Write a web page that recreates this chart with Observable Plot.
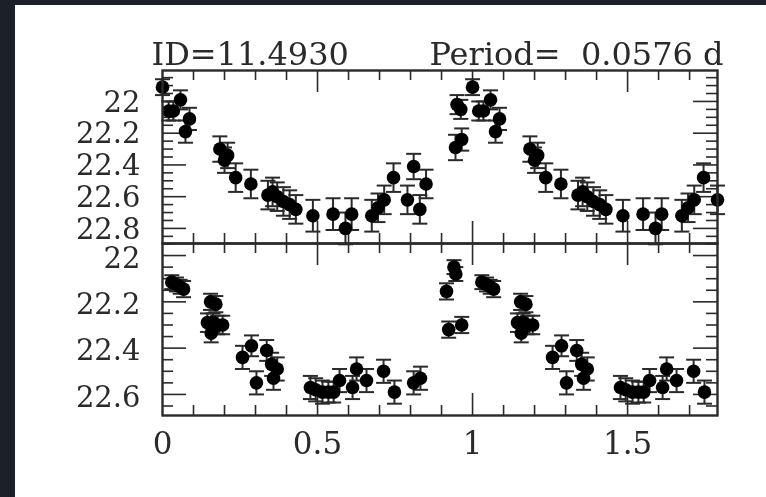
<!DOCTYPE html>
<html><head><meta charset="utf-8">
<script src="https://cdn.jsdelivr.net/npm/d3@7"></script>
<script src="https://cdn.jsdelivr.net/npm/@observablehq/plot@0.6"></script>
<style>
html,body{margin:0;padding:0;background:#1b2029;width:766px;height:497px;overflow:hidden;}
#card{position:absolute;left:15px;top:5px;width:751px;height:492px;background:#fff;}
#top{position:absolute;left:0;top:0;}
#bot{position:absolute;left:0;top:238px;}
svg{overflow:visible;background:transparent !important;filter:blur(0.5px);}
</style></head><body><div id="card"><div id="top"></div><div id="bot"></div></div>
<script>
// ---- texts ----
const titleLeft = "ID=11.4930";
const titleRight = "Period=  0.0576 d";

// ---- ticks ----
const xTickValues = [0, 0.5, 1, 1.5];
const xTickLabels = ["0", "0.5", "1", "1.5"];
const topYTicks = [22, 22.2, 22.4, 22.6, 22.8];
const topYLabels = ["22", "22.2", "22.4", "22.6", "22.8"];
const botYTicks = [22, 22.2, 22.4, 22.6];
const botYLabels = ["22", "22.2", "22.4", "22.6"];

// ---- top panel data (phase, magnitude, error) ----
const topPhase = [0.000, 0.020, 0.035, 0.058, 0.074, 0.087, 0.185, 0.200, 0.210, 0.236,
  0.285, 0.340, 0.355, 0.370, 0.390, 0.410, 0.430, 0.485, 0.550, 0.590,
  0.610, 0.675, 0.695, 0.715, 0.745, 0.790, 0.810, 0.830, 0.850, 0.945,
  0.965, 0.950, 0.962];
const topMag = [21.91, 22.06, 22.06, 21.99, 22.19, 22.11, 22.30, 22.37, 22.34, 22.48,
  22.52, 22.59, 22.57, 22.60, 22.63, 22.65, 22.68, 22.72, 22.71, 22.80,
  22.71, 22.72, 22.67, 22.62, 22.48, 22.62, 22.41, 22.68, 22.52, 22.29,
  22.24, 22.02, 22.05];
const topErr = [0.05, 0.06, 0.06, 0.06, 0.07, 0.07, 0.08, 0.08, 0.08, 0.09,
  0.09, 0.09, 0.09, 0.09, 0.09, 0.09, 0.09, 0.10, 0.10, 0.10,
  0.10, 0.10, 0.09, 0.09, 0.09, 0.09, 0.08, 0.09, 0.09, 0.08,
  0.07, 0.06, 0.06];

// ---- bottom panel data ----
const botPhase = [0.030, 0.045, 0.057, 0.068, 0.145, 0.155, 0.157, 0.163, 0.172, 0.178,
  0.194, 0.258, 0.287, 0.303, 0.336, 0.352, 0.358, 0.370, 0.477, 0.494,
  0.516, 0.535, 0.552, 0.571, 0.613, 0.626, 0.658, 0.713, 0.748, 0.810,
  0.832, 0.916, 0.923, 0.940, 0.946, 0.965];
const botMag = [22.115, 22.125, 22.135, 22.145, 22.29, 22.20, 22.335, 22.29, 22.21, 22.30,
  22.30, 22.44, 22.39, 22.55, 22.41, 22.47, 22.53, 22.49, 22.57, 22.58,
  22.59, 22.59, 22.59, 22.54, 22.57, 22.49, 22.54, 22.50, 22.59, 22.55,
  22.53, 22.155, 22.32, 22.05, 22.08, 22.30];
const botErr = [0.03, 0.03, 0.03, 0.035, 0.04, 0.035, 0.04, 0.04, 0.035, 0.04,
  0.04, 0.05, 0.045, 0.05, 0.045, 0.05, 0.05, 0.05, 0.05, 0.05,
  0.05, 0.045, 0.045, 0.05, 0.05, 0.05, 0.05, 0.05, 0.05, 0.05,
  0.05, 0.035, 0.035, 0.03, 0.03, 0.035];

const X_DOMAIN = [0, 1.79];
const xMinor = d3.range(1, 18).map(i => i / 10).filter(v => Math.abs(v * 2 - Math.round(v * 2)) > 1e-9);
const xMajor = [0.5, 1, 1.5];

function rows(phase, mag, err) {
  const out = [];
  for (let k = 0; k < 2; k++) {
    phase.forEach((p, i) => {
      const x = p + k;
      if (x <= X_DOMAIN[1] + 0.005) out.push({x, mag: mag[i], err: err[i]});
    });
  }
  return out;
}

const capSymbol = {draw(ctx) { ctx.moveTo(-7.5, 0); ctx.lineTo(7.5, 0); }};
const INK = "#2a2a2a";
const W = 751, ML = 147, MR = 49;
const innerW = W - ML - MR;

function yTicks(lo, hi, step) {
  const out = [];
  for (let v = Math.ceil(lo / step - 1e-9) * step; v <= hi + 1e-9; v += step) out.push(+v.toFixed(3));
  return out;
}

function panel({data, yDomain, yMajor, yLabels, height, marginTop, marginBottom, showX, labelDy, extra}) {
  const innerH = height - marginTop - marginBottom;
  const yAll = yTicks(Math.min(...yDomain), Math.max(...yDomain), 0.05);
  const yMin = yAll.filter(v => !yMajor.some(m => Math.abs(m - v) < 1e-6));
  const tickStyle = {stroke: INK, strokeWidth: 1.6};
  const marks = [
    Plot.tickX(xMinor, {x: d => d, insetBottom: innerH - 10, ...tickStyle}),
    Plot.tickX(xMajor, {x: d => d, insetBottom: innerH - 22, ...tickStyle}),
    Plot.tickX(xMinor, {x: d => d, insetTop: innerH - 10, ...tickStyle}),
    Plot.tickX(xMajor, {x: d => d, insetTop: innerH - 22, ...tickStyle}),
    Plot.tickY(yMin, {y: d => d, insetRight: innerW - 11, ...tickStyle}),
    Plot.tickY(yMajor, {y: d => d, insetRight: innerW - 24, ...tickStyle}),
    Plot.tickY(yMin, {y: d => d, insetLeft: innerW - 11, ...tickStyle}),
    Plot.tickY(yMajor, {y: d => d, insetLeft: innerW - 24, ...tickStyle}),
    Plot.axisY({anchor: "left", ticks: yMajor, tickFormat: d => yLabels[yMajor.indexOf(d)],
      tickSize: 0, tickPadding: 22, fontSize: 29, fill: INK, label: null, dy: labelDy || 0}),
    Plot.ruleX(data, {x: "x", y1: d => d.mag - d.err, y2: d => d.mag + d.err, stroke: INK, strokeWidth: 2}),
    Plot.dot(data, {x: "x", y: d => d.mag - d.err, symbol: capSymbol, fill: "none", stroke: INK, strokeWidth: 2}),
    Plot.dot(data, {x: "x", y: d => d.mag + d.err, symbol: capSymbol, fill: "none", stroke: INK, strokeWidth: 2}),
    Plot.dot(data, {x: "x", y: "mag", r: 6.8, fill: "#000"}),
    Plot.frame({stroke: INK, strokeWidth: 2.4})
  ];
  if (showX) marks.push(Plot.axisX({anchor: "bottom", ticks: xTickValues,
    tickFormat: d => xTickLabels[xTickValues.indexOf(d)], tickSize: 0, tickPadding: 16, fontSize: 31, fill: INK, label: null}));
  if (extra) marks.push(...extra);
  return Plot.plot({
    width: W, height, marginLeft: ML, marginRight: MR, marginTop, marginBottom,
    style: {fontFamily: "DejaVu Serif", background: "transparent", overflow: "visible", color: INK},
    x: {domain: X_DOMAIN, axis: showX ? undefined : null, label: null},
    y: {domain: yDomain, label: null},
    marks
  });
}

const topChart = panel({
  data: rows(topPhase, topMag, topErr),
  yDomain: [22.895, 21.805], yMajor: topYTicks, yLabels: topYLabels,
  height: 238, marginTop: 65, marginBottom: 0, showX: false, labelDy: 1,
  extra: [
    Plot.text([titleLeft], {text: d => d, frameAnchor: "top-left", textAnchor: "start", lineAnchor: "bottom", dx: -11, dy: -6, fontSize: 32, fill: INK}),
    Plot.text([titleRight], {text: d => d, frameAnchor: "top-right", textAnchor: "end", lineAnchor: "bottom", dx: 6, dy: -6, fontSize: 32, fill: INK})
  ]
});
const botChart = panel({
  data: rows(botPhase, botMag, botErr),
  yDomain: [22.691, 21.948], yMajor: botYTicks, yLabels: botYLabels,
  height: 254, marginTop: 0, marginBottom: 82, showX: true, labelDy: 3
});
document.getElementById("top").append(topChart);
document.getElementById("bot").append(botChart);
</script></body></html>
